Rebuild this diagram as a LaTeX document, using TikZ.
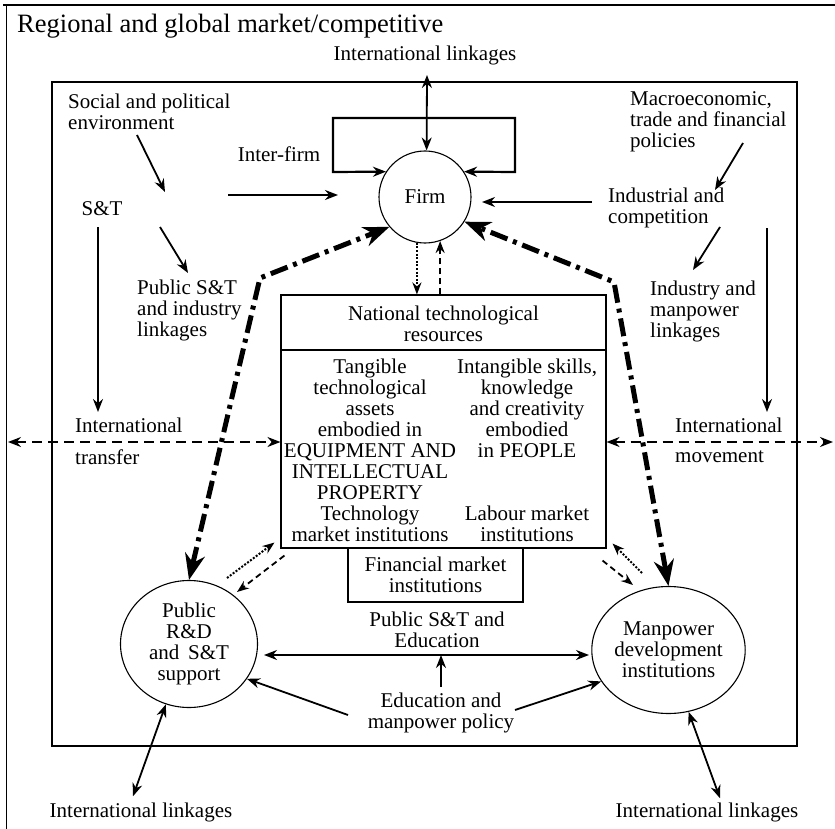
\documentclass[tikz,border=0pt]{standalone}
\usepackage{fontspec}
\setmainfont{Liberation Serif}
\usetikzlibrary{arrows.meta,shapes.geometric}

\begin{document}
\begin{tikzpicture}[x=1pt,y=-1pt,
  every node/.style={inner sep=0pt, font=\fontsize{21pt}{21pt}\selectfont},
  lbl/.style={align=center},
  lbll/.style={align=left, anchor=west},
  flow/.style={line width=1.8pt, -{Stealth[length=13pt,width=10pt]}},
  flowboth/.style={line width=1.8pt, {Stealth[length=13pt,width=10pt]}-{Stealth[length=13pt,width=10pt]}},
  major/.style={line width=5pt, dash pattern=on 18pt off 6pt on 4pt off 6pt,
    {Stealth[length=26pt,width=20pt]}-{Stealth[length=26pt,width=20pt]}},
  dotflow/.style={line width=2pt, dash pattern=on 2pt off 1.6pt, -{Stealth[length=12pt,width=9pt]}},
  dashflow/.style={line width=1.8pt, dash pattern=on 6pt off 4pt, -{Stealth[length=12pt,width=9pt]}},
  crossing/.style={line width=1.8pt, dash pattern=on 10pt off 6pt,
    {Stealth[length=13pt,width=10pt]}-{Stealth[length=13pt,width=10pt]}},
  institution/.style={draw, line width=1.1pt, ellipse, minimum width=137pt, minimum height=127pt, align=center}
]
\useasboundingbox (0,0) rectangle (835,829);

% outer environment frame (top and left edges) and the national system box
\draw[line width=2.4pt] (3,5) -- (835,5);
\draw[line width=1pt] (6,5) -- (6,829);
\draw[line width=1.5pt] (52,82) rectangle (797,746);

% headings and labels
\node[anchor=base west, font=\fontsize{26.5pt}{28pt}\selectfont] (title) at (17,33) {Regional and global market/competitive};
\node[lbl] (intlTop) at (425,55) {International linkages};
\node[lbll] (social) at (68,112) {Social and political\\environment};
\node[lbl] (interfirm) at (279,154) {Inter-firm};
\node[lbl] (st) at (102,209) {S\&T};
\node[lbll] (macro) at (630,122) {Macroeconomic,\\trade and financial\\policies};
\node[lbll] (indcomp) at (608,208) {Industrial and\\competition};
\node[lbll] (pubst) at (137,310) {Public S\&T\\and industry\\linkages};
\node[lbll] (indman) at (650,311) {Industry and\\manpower\\linkages};
\node[lbll] (intlL) at (75,425) {International};
\node[lbll] (transfer) at (75,457) {transfer};
\node[lbll] (intlR) at (675,425) {International};
\node[lbll] (movement) at (675,457) {movement};

% the firm
\node[draw, circle, line width=1.1pt, minimum size=92pt] (firm) at (425,197) {Firm};

% national technological resources
\node[draw, line width=1.1pt, minimum width=325pt, minimum height=253pt] (ntr) at (443.5,421.5) {};
\coordinate (div) at (443.5,350);
\draw[line width=1.1pt] (ntr.west |- div) -- (ntr.east |- div);
\node[lbl] (ntrhead) at (443.5,324) {National technological\\resources};
\node[lbl] (tangible) at (370,429) {Tangible\\technological\\assets\\embodied in\\EQUIPMENT AND\\INTELLECTUAL\\PROPERTY};
\node[lbl] (techmkt) at (370,524) {Technology\\market institutions};
\node[lbl] (intangible) at (527,408) {Intangible skills,\\knowledge\\and creativity\\embodied\\in PEOPLE};
\node[lbl] (labmkt) at (527,524) {Labour market\\institutions};
\node[draw, line width=1.1pt, minimum width=175pt, minimum height=54pt, align=center] (fin) at (435.5,575) {Financial market\\institutions};

% public institutions
\node[institution] (pubRD) at (189,644) {Public\\R\&D\\and\, S\&T\\support};
\node[institution] (manpower) at (668.5,650) {Manpower\\development\\institutions};
\node[lbl] (pubedu) at (437,630) {Public S\&T and\\Education};
\node[lbl] (edupol) at (441,713) {Education and\\manpower policy};
\node[lbl] (intlBL) at (141,812) {International linkages};
\node[lbl] (intlBR) at (707,812) {International linkages};

% free ends of the policy arrows
\coordinate (socA) at (137,135);  \coordinate (socB) at (165,192);
\coordinate (stA) at (228,195);   \coordinate (stB) at (338,195);
\coordinate (pubA) at (160,227);  \coordinate (pubB) at (188,273);
\coordinate (stDownA) at (98,227); \coordinate (stDownB) at (98,412);
\coordinate (macA) at (743,143);  \coordinate (macB) at (715,190);
\coordinate (indA) at (592,202);  \coordinate (indB) at (482,202);
\coordinate (icA) at (720,227);   \coordinate (icB) at (693,270);
\coordinate (rDownA) at (767,228); \coordinate (rDownB) at (767,412);
\coordinate (westEnd) at (8,442); \coordinate (eastEnd) at (833,442);
\coordinate (busL) at (264,655);  \coordinate (busR) at (589,655);
\coordinate (cornerL) at (260,278); \coordinate (cornerR) at (614,282);

% linkages of the firm
\draw[flowboth] ([shift={(2,20)}]intlTop.center) -- (firm.88);
\draw[flowboth, line width=2.2pt] (firm.147) -- (333,172) -- (333,118) -- (515,118) -- (515,172) -- (firm.33);
\draw[flow] (socA) -- (socB);
\draw[flow] (stA) -- (stB);
\draw[flow] (pubA) -- (pubB);
\draw[flow] (stDownA) -- (stDownB);
\draw[flow] (macA) -- (macB);
\draw[flow] (indA) -- (indB);
\draw[flow] (icA) -- (icB);
\draw[flow] (rDownA) -- (rDownB);

% international flows of technology and people
\draw[crossing] (westEnd) -- (westEnd -| ntr.west);
\draw[crossing] (eastEnd -| ntr.east) -- (eastEnd);

% main flows between firm and public institutions
\draw[major] (pubRD.north) -- (cornerL) -- (firm.220);
\draw[major] (manpower.north) -- (cornerR) -- (firm.328);

% exchanges with national technological resources
\draw[dotflow] (firm.260) -- (firm.260 |- ntr.north);
\draw[dashflow] (ntr.north -| firm.289) -- (firm.289);
\draw[dotflow] (227,578) -- ([shift={(-6,-6)}]ntr.south west);
\draw[dashflow] ([shift={(4,7)}]ntr.south west) -- (237,592);
\draw[dotflow] (642,573) -- ([shift={(6,-5)}]ntr.south east);
\draw[dashflow] ([shift={(-4,12)}]ntr.south east) -- (633,585);

% public policy links
\draw[flowboth] (busL) -- (busR);
\draw[flow] (edupol.north |- 0,687) -- (edupol.north |- busL);
\draw[flow] (348,715) -- (pubRD.-31);
\draw[flow] (515,710) -- (manpower.205);
\draw[flowboth] (pubRD.249) -- ([shift={(-8,-6)}]intlBL.north);
\draw[flowboth] (manpower.288) -- ([shift={(13,-4)}]intlBR.north);
\end{tikzpicture}
\end{document}
